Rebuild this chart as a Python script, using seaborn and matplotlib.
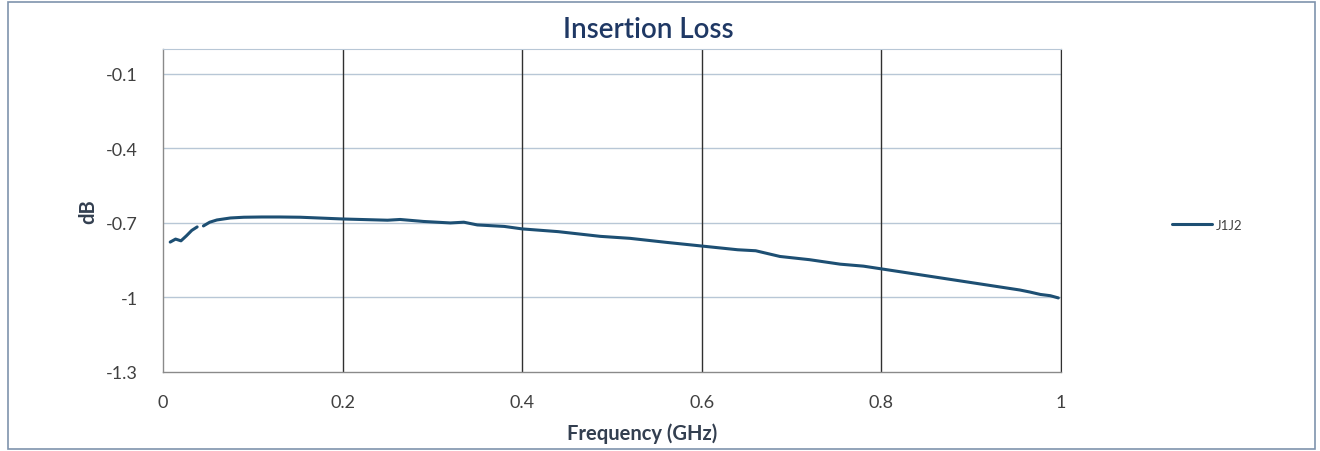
import numpy as np
import pandas as pd
import matplotlib
matplotlib.use("Agg")
import matplotlib.pyplot as plt
import seaborn as sns
from matplotlib.patches import Rectangle

# values
freq_ghz = [0.008, 0.014, 0.020, 0.026, 0.032, 0.038, np.nan,
            0.045, 0.052, 0.060, 0.075, 0.090, 0.110, 0.130, 0.153, 0.180, 0.200,
            0.230, 0.250, 0.264, 0.290, 0.320, 0.335, 0.350, 0.380, 0.400, 0.440, 0.487,
            0.520, 0.560, 0.600, 0.640, 0.660, 0.687, 0.720, 0.754, 0.780, 0.800,
            0.954, 0.965, 0.977, 0.988, 0.997]
loss_db = [-0.777, -0.765, -0.772, -0.752, -0.730, -0.716, np.nan,
           -0.712, -0.697, -0.688, -0.680, -0.677, -0.676, -0.676, -0.677, -0.681, -0.684,
           -0.687, -0.689, -0.686, -0.694, -0.700, -0.697, -0.708, -0.714, -0.724, -0.735, -0.754,
           -0.762, -0.778, -0.793, -0.808, -0.812, -0.835, -0.848, -0.866, -0.874, -0.885,
           -0.970, -0.978, -0.988, -0.993, -1.002]
yticks = [-0.1, -0.4, -0.7, -1.0, -1.3]
ytick_labels = ["-0.1", "-0.4", "-0.7", "-1", "-1.3"]
xticks = [0, 0.2, 0.4, 0.6, 0.8, 1.0]
xtick_labels = ["0", "0.2", "0.4", "0.6", "0.8", "1"]

df = pd.DataFrame({"freq": freq_ghz, "loss": loss_db, "trace": "J1J2"})

sns.set_style("white")
plt.rcParams["font.family"] = ["Lato", "DejaVu Sans"]

navy = "#1f3864"
line_col = "#1d4f73"

fig = plt.figure(figsize=(13.2, 4.52), dpi=100)
ax = fig.add_axes([0.1235, 0.175, 0.6803, 0.714])

ax.plot(df.freq, df.loss, color=line_col, lw=2.2, label="J1J2")

ax.set_xlim(0, 1)
ax.set_ylim(-1.3, 0.0)
ax.set_yticks(yticks)
ax.set_yticklabels(ytick_labels)
ax.set_xticks(xticks)
ax.set_xticklabels(xtick_labels)
ax.tick_params(labelsize=13, colors="#404040", length=0)
ax.tick_params(axis="y", pad=18)
ax.tick_params(axis="x", pad=16)

for y in yticks[:-1]:
    ax.axhline(y, color="#b8c7d6", lw=1.0, zorder=0)
for x in xticks[1:]:
    ax.axvline(x, color="#303030", lw=1.0, zorder=0)

for s in ["left", "bottom"]:
    ax.spines[s].set_color("#8a8a8a")
    ax.spines[s].set_linewidth(1.0)
ax.spines["top"].set_color("#b8c7d6")
ax.spines["right"].set_color("#303030")

fig.text(0.491, 0.933, "Insertion Loss", fontsize=20, color=navy, fontweight="semibold",
         ha="center", va="center")
ax.set_xlabel("Frequency (GHz)", fontsize=14.5, color="#333f50", fontweight="bold", labelpad=6)
ax.xaxis.set_label_coords(0.533, -0.155)
ax.set_ylabel("dB", fontsize=14.5, color="#333f50", fontweight="bold", labelpad=6)

leg = fig.legend(loc="center left", bbox_to_anchor=(0.879, 0.5), frameon=False,
                 fontsize=9.5, handlelength=3.0, handletextpad=0.3)
for t in leg.get_texts():
    t.set_color("#404040")

fig.patches.append(Rectangle((0.006, 0.004), 0.99, 0.99, transform=fig.transFigure,
                             fill=False, edgecolor="#7f93ad", lw=1.2))

fig.savefig("out.png", dpi=100)
